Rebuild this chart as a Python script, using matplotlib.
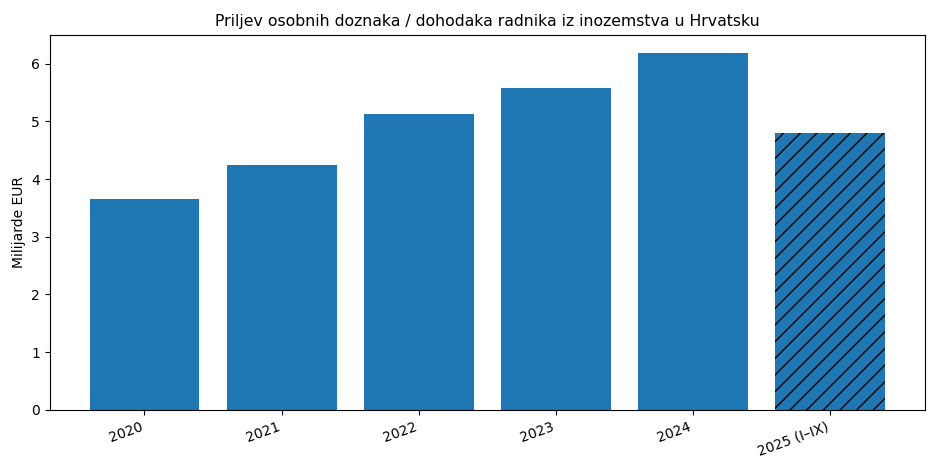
import matplotlib
matplotlib.use("Agg")
import matplotlib.pyplot as plt

years = ["2020", "2021", "2022", "2023", "2024", "2025 (I–IX)"]
values = [3.66, 4.24, 5.12, 5.57, 6.19, 4.80]

fig, ax = plt.subplots(figsize=(9.4, 4.7), dpi=100)
fig.subplots_adjust(left=0.053, right=0.984, top=0.926, bottom=0.128)

bars = ax.bar(years, values, color="#1f77b4")
# last year is partial (Jan-Sep), mark it with hatch
bars[-1].set_hatch("//")
bars[-1].set_edgecolor("black")
bars[-1].set_linewidth(0)

ax.set_title("Priljev osobnih doznaka / dohodaka radnika iz inozemstva u Hrvatsku", fontsize=11.3)
ax.set_ylabel("Milijarde EUR")
plt.setp(ax.get_xticklabels(), rotation=20, ha="right")

fig.savefig("out.png", dpi=100)
